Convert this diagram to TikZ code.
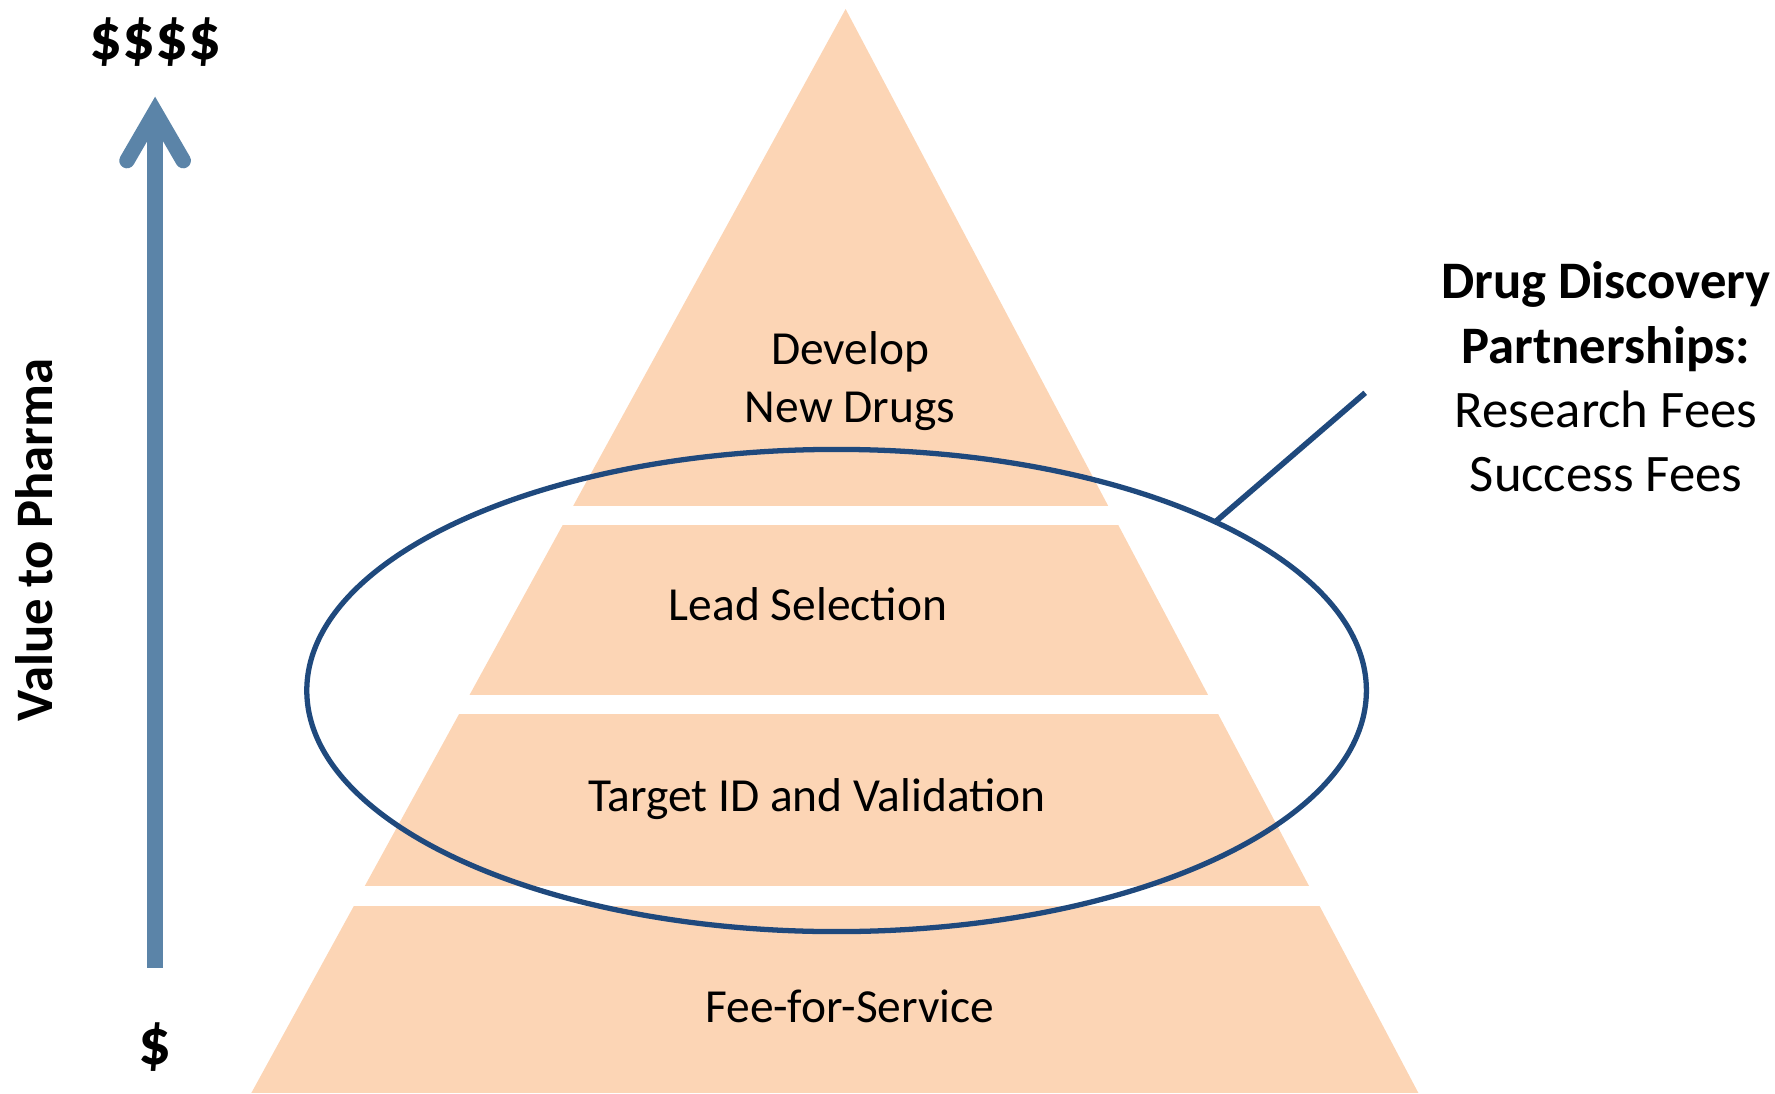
\documentclass[tikz,border=0pt]{standalone}
\usepackage{fontspec}
\setmainfont{Carlito}
\usetikzlibrary{arrows.meta,shapes.geometric}
\definecolor{peach}{HTML}{FCD5B5}
\definecolor{ovalblue}{HTML}{1F497D}
\definecolor{steel}{RGB}{91,132,168}
\tikzset{
    tier/.style={font=\fontsize{13.5}{16.5}\selectfont, align=center},
    note/.style={font=\fontsize{15}{18.3}\selectfont, align=center},
    dollar/.style={font=\bfseries\fontsize{18.5}{20}\selectfont},
}
\begin{document}
\begin{tikzpicture}
    \useasboundingbox (0,0) rectangle (17.75,10.93);
    % Pyramide (bandes découpées dans le triangle)
    \begin{scope}
        \clip (2.513,0) -- (8.456,10.84) -- (14.184,0) -- cycle;
        \foreach \ylo/\yhi in {0/1.874,2.066/3.787,3.98/5.677,5.87/11} {
            \fill[peach] (0,\ylo) rectangle (17.75,\yhi);}
    \end{scope}
    % Etages
    \node[tier] (develop) at (8.50,7.12) {Develop\\New Drugs};
    \node[tier] (lead) at (8.08,4.885) {Lead Selection};
    \node[tier] (target) at (8.17,2.94) {Target ID and Validation};
    \node[tier] (fee) at (8.50,0.866) {Fee-for-Service};
    % Ellipse
    \node[draw=ovalblue, line width=1.5pt, ellipse, minimum width=10.596cm,
        minimum height=4.822cm, inner sep=0pt, outer sep=0pt] (partner) at (8.366,4.025) {};
    % Trait vers le texte
    \coordinate (callout) at (13.652,7.002);
    \draw[ovalblue, line width=1.6pt] (partner.24.5) -- (callout);
    \node[note] (deals) at (16.06,7.16)
        {\textbf{Drug Discovery}\\\textbf{Partnerships:}\\Research Fees\\Success Fees};
    % Axe de valeur
    \node[dollar] (high) at (1.551,10.511) {\$\$\$\$};
    \node[dollar] (low) at (1.551,0.459) {\$};
    \node[note, font=\bfseries\fontsize{15}{18.3}\selectfont, rotate=90] (value) at (0.34,5.53) {Value to Pharma};
    \coordinate (base) at (1.551,1.251);
    \coordinate (tip) at (1.551,9.963);
    \draw[steel, line width=4.4pt,
        -{Straight Barb[length=13.8pt, width=16pt, line cap=round, line join=miter]}] (base) -- (tip);
\end{tikzpicture}
\end{document}
